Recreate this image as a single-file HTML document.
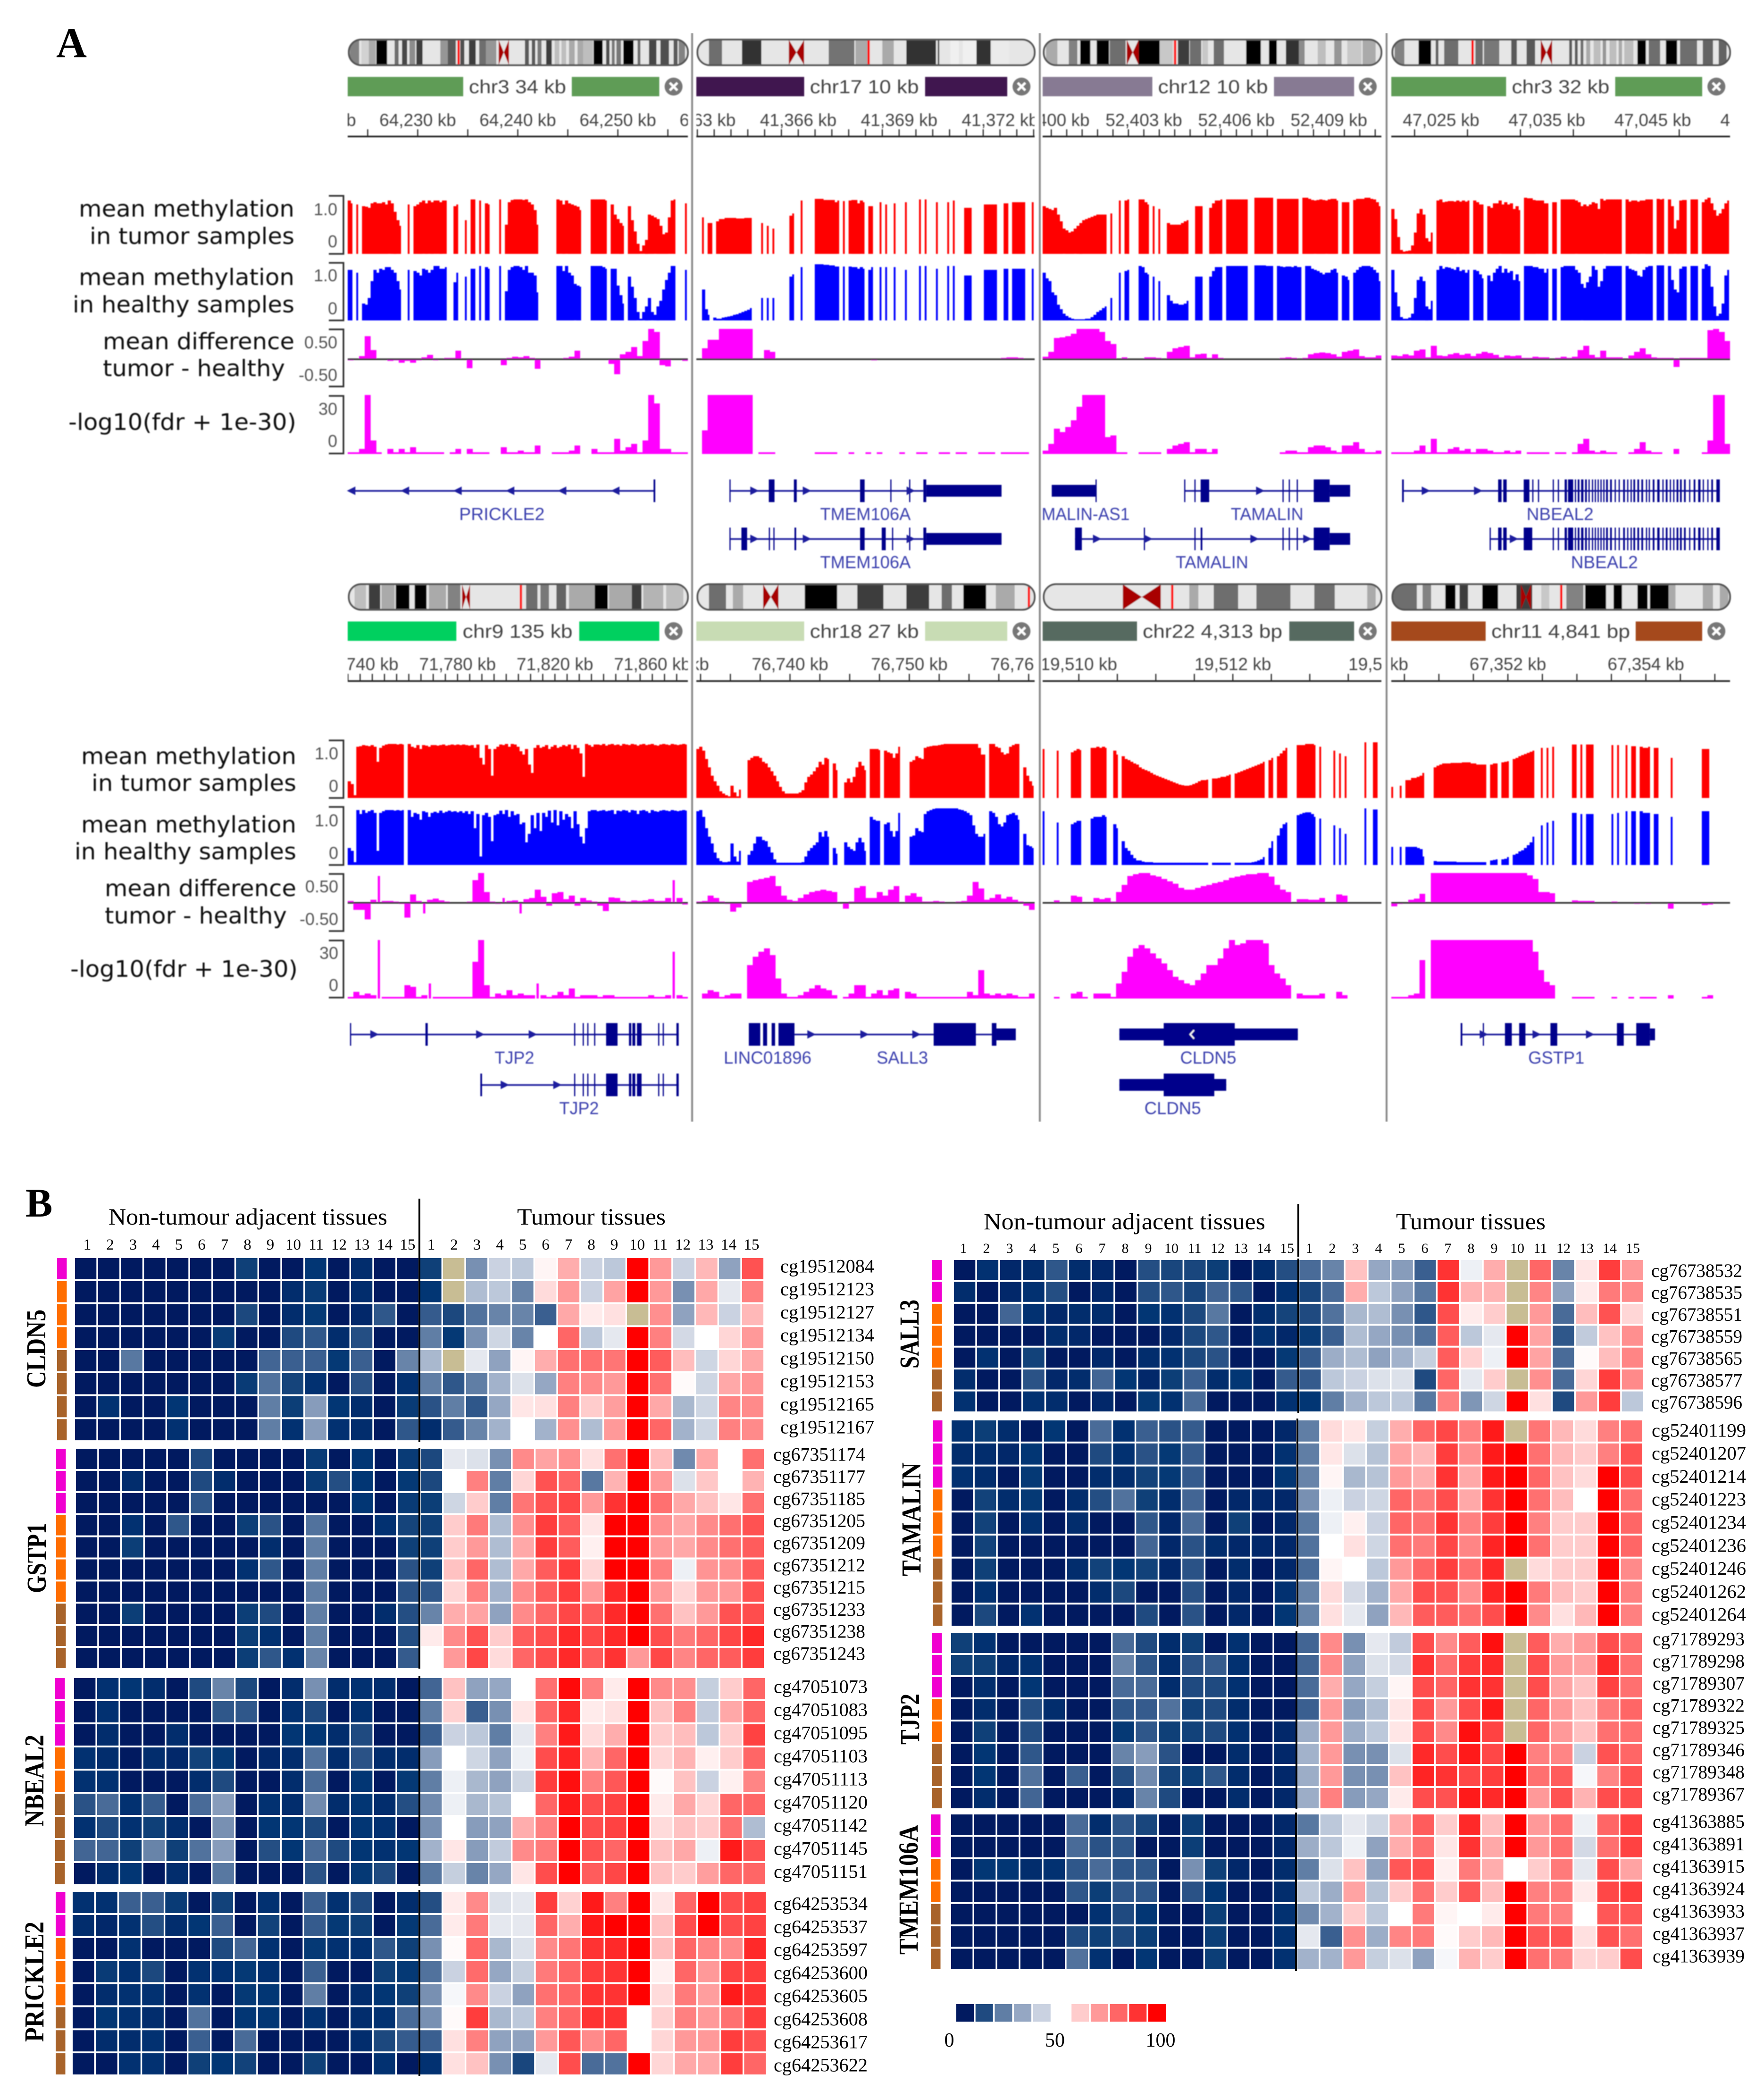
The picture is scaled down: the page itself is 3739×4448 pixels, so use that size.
<!DOCTYPE html>
<html lang="en">
<head>
<meta charset="utf-8">
<title>Methylation tracks and heatmaps</title>
<style>
html,body{margin:0;padding:0;background:#fff}
svg{display:block}
.serif{font-family:"Liberation Serif",serif}
.sans{font-family:"Liberation Sans",sans-serif}
.dj{font-family:"DejaVu Sans",sans-serif;font-size:48px;fill:#111}
</style>
</head>
<body>
<svg id="fig" width="3739" height="4448" viewBox="0 0 3739 4448">
<defs><filter id="soft" x="0" y="0" width="100%" height="100%"><feGaussianBlur stdDeviation="1.1"/></filter></defs>
<rect width="3739" height="4448" fill="#fff"/>
<g id="partA" filter="url(#soft)">
<text class="dj" x="167" y="459" textLength="457" lengthAdjust="spacingAndGlyphs">mean methylation</text>
<text class="dj" x="190" y="517" textLength="434" lengthAdjust="spacingAndGlyphs">in tumor samples</text>
<text class="dj" x="167" y="604" textLength="457" lengthAdjust="spacingAndGlyphs">mean methylation</text>
<text class="dj" x="154" y="662" textLength="470" lengthAdjust="spacingAndGlyphs">in healthy samples</text>
<text class="dj" x="218" y="740" textLength="406" lengthAdjust="spacingAndGlyphs">mean difference</text>
<text class="dj" x="218" y="797" textLength="386" lengthAdjust="spacingAndGlyphs">tumor - healthy</text>
<text class="dj" x="145" y="911" textLength="483" lengthAdjust="spacingAndGlyphs">-log10(fdr + 1e-30)</text>
<text class="dj" x="172" y="1619" textLength="456" lengthAdjust="spacingAndGlyphs">mean methylation</text>
<text class="dj" x="194" y="1676" textLength="434" lengthAdjust="spacingAndGlyphs">in tumor samples</text>
<text class="dj" x="172" y="1764" textLength="456" lengthAdjust="spacingAndGlyphs">mean methylation</text>
<text class="dj" x="158" y="1821" textLength="470" lengthAdjust="spacingAndGlyphs">in healthy samples</text>
<text class="dj" x="222" y="1899" textLength="406" lengthAdjust="spacingAndGlyphs">mean difference</text>
<text class="dj" x="222" y="1957" textLength="386" lengthAdjust="spacingAndGlyphs">tumor - healthy</text>
<text class="dj" x="149" y="2070" textLength="482" lengthAdjust="spacingAndGlyphs">-log10(fdr + 1e-30)</text>
</g>
<text class="serif" x="119" y="121" font-size="90" font-weight="bold">A</text>
<text class="serif" x="54" y="2578" font-size="86" font-weight="bold">B</text>
<text class="serif" x="230" y="2595" font-size="50" textLength="591" lengthAdjust="spacingAndGlyphs">Non-tumour adjacent tissues</text>
<text class="serif" x="1096" y="2595" font-size="50" textLength="315" lengthAdjust="spacingAndGlyphs">Tumour tissues</text>
<text class="serif" x="2085" y="2605" font-size="50" textLength="597" lengthAdjust="spacingAndGlyphs">Non-tumour adjacent tissues</text>
<text class="serif" x="2959" y="2605" font-size="50" textLength="317" lengthAdjust="spacingAndGlyphs">Tumour tissues</text>
<g id="partB"></g>
</svg>
<script>
// ---------- Track data: values per genomic bin (0 = no probe) ----------
const chr3aTumor=[95,90,0,88,0,85,84,82,90,92,90,90,92,88,95,90,75,60,50,0,0,88,0,85,88,92,95,90,95,92,95,95,92,95,95,0,0,85,88,0,0,60,0,97,97,0,95,0,90,88,0,0,0,97,0,52,92,96,97,97,97,96,97,92,88,78,52,0,0,0,0,0,0,97,95,88,95,90,88,86,84,78,0,0,0,97,97,97,97,97,95,0,88,70,62,55,50,0,85,60,40,18,5,15,25,70,68,65,62,50,35,38,65,95,97,0,0,0,90];
const chr3aHealthy=[90,90,0,85,0,30,28,40,70,90,85,92,90,95,95,90,85,70,55,0,0,90,0,88,85,80,92,90,85,90,97,97,92,92,95,0,0,68,85,0,0,78,0,92,92,0,97,0,95,92,0,0,0,97,0,52,90,95,97,97,95,90,97,85,85,80,50,0,0,0,0,0,0,97,97,88,97,85,80,65,62,60,0,0,0,97,97,97,97,95,92,0,92,92,62,45,30,0,78,60,40,15,3,15,25,40,15,10,25,35,55,72,85,97,97,0,0,0,90];
const chr3aDiff=[-2,-1,5,38,15,-1,-1,-3,-2,-6,-3,-6,-2,3,7,-2,0,2,2,14,0,-15,0,-1,0,0,0,-10,2,4,3,5,2,-16,0,0,0,0,2,4,14,0,0,-1,0,-1,-8,-25,8,12,20,5,30,50,45,-10,-12,0,-1,-3];
const chr3aFdr=[1,1,3,35,8,1,0,3,1,3,1,4,1,1,1,1,1,0,1,3,0,3,1,1,1,0,0,4,1,1,2,1,1,5,0,0,1,1,1,2,5,0,0,3,1,1,1,9,2,4,6,1,8,35,30,3,3,1,1,1];
const chr17Tumor=[0,0,65,0,55,55,0,58,62,62,64,64,64,64,63,63,63,64,64,64,0,0,0,55,0,50,0,45,0,0,0,0,0,68,72,0,0,95,0,0,0,0,98,98,98,96,96,96,96,92,95,0,94,0,95,96,96,90,95,92,0,85,85,0,0,92,0,88,0,0,90,0,0,0,92,0,0,0,0,97,0,97,0,0,0,92,0,0,0,92,0,95,0,0,0,82,82,82,0,0,0,0,88,88,88,88,88,0,0,90,90,0,92,92,92,92,92,0,0,92];
const chr17Healthy=[0,0,55,20,10,0,5,3,3,5,6,7,8,10,11,13,15,17,19,22,0,0,0,40,0,40,0,40,0,0,0,0,0,78,82,0,0,95,0,0,0,0,100,100,100,99,99,98,98,96,96,0,96,0,96,95,95,92,95,92,0,90,95,0,0,95,0,95,0,0,95,0,0,0,90,0,0,0,0,97,0,97,0,0,0,92,0,0,0,97,0,97,0,0,0,80,80,80,0,0,0,0,90,90,90,90,90,0,0,92,92,0,92,92,92,92,92,0,0,92];
const chr17Diff=[0,18,32,32,50,50,50,50,50,50,0,0,15,12,0,0,0,-1,0,0,0,1,1,1,1,1,1,0,1,1,1,-2,-1,0,0,0,1,0,1,0,0,0,0,1,0,1,1,1,0,0,1,1,1,1,2,3,3,2,1,1];
const chr17Fdr=[0,14,35,35,35,35,35,35,35,35,0,1,1,1,0,0,0,0,0,0,0,1,1,1,1,0,0,1,0,0,1,0,1,0,0,0,1,0,0,1,1,0,0,1,1,0,1,1,0,0,1,1,1,0,1,1,1,1,1,0];
const chr12Tumor=[85,82,80,78,82,70,58,45,42,38,40,45,50,55,60,62,64,66,68,70,70,70,70,0,72,0,0,95,0,95,97,0,0,0,97,97,92,88,0,85,0,80,0,0,55,52,52,52,52,55,58,60,0,0,85,85,85,0,0,82,90,95,95,97,0,97,97,97,97,97,97,97,97,0,0,100,100,100,100,100,100,100,0,98,98,98,98,98,98,98,98,0,100,100,98,96,95,96,97,96,95,97,98,98,95,0,92,92,92,0,96,98,98,98,100,100,98,97,92,85];
const chr12Healthy=[85,75,70,50,45,28,20,12,8,5,3,2,2,2,2,3,3,6,10,15,18,22,25,0,40,0,0,85,0,88,90,0,0,0,97,95,85,82,0,78,0,70,0,0,45,35,30,30,28,28,30,35,0,0,78,78,78,0,0,78,88,95,95,95,0,97,97,97,97,97,97,97,97,0,0,98,98,98,98,97,97,97,0,97,96,95,96,96,95,97,95,95,0,97,97,92,90,88,85,82,85,85,90,92,85,0,80,78,72,0,85,90,95,97,97,97,95,90,85,70];
const chr12Diff=[4,12,35,36,38,42,50,50,50,50,45,30,25,1,3,0,1,1,3,3,2,1,12,18,20,22,3,8,9,2,8,2,1,1,1,1,0,0,0,0,0,0,2,3,2,1,2,8,10,11,10,8,4,12,14,16,5,3,3,6];
const chr12Fdr=[2,6,15,13,16,20,28,35,35,35,35,10,11,1,1,0,0,1,1,1,1,0,3,5,6,7,1,3,3,1,3,0,0,0,0,0,0,0,0,0,0,0,1,2,2,1,1,4,5,5,4,2,1,5,5,7,3,1,1,2];
const chr3bTumor=[80,62,30,7,4,5,6,15,38,72,80,70,28,22,38,0,95,97,92,93,94,94,93,95,93,95,93,95,0,95,92,88,88,0,85,82,90,90,95,88,92,88,90,80,85,78,0,100,99,99,96,95,95,95,90,90,0,92,92,0,97,97,97,97,97,95,92,85,88,85,88,92,90,80,98,95,97,97,97,97,97,97,0,97,93,95,95,93,95,95,97,97,97,0,98,97,98,0,97,85,45,60,95,96,96,0,97,97,97,0,92,97,100,90,78,68,72,80,90,95];
const chr3bHealthy=[90,50,25,6,3,3,5,12,40,72,78,70,25,20,35,0,90,97,92,95,94,92,90,95,88,90,85,90,0,90,88,82,75,0,80,70,85,92,97,85,92,85,88,72,82,70,0,97,97,97,95,95,92,92,85,92,0,92,92,0,95,97,97,97,97,90,85,65,58,68,78,97,90,60,70,92,97,97,97,97,97,97,0,97,92,90,88,80,78,90,95,97,97,0,98,98,98,0,97,72,55,50,92,96,96,0,97,97,97,0,92,100,97,60,25,8,12,30,80,90];
const chr3bDiff=[6,5,8,6,14,16,3,22,6,5,8,10,7,9,5,9,12,10,7,3,6,5,6,2,2,4,3,3,0,2,4,2,4,15,22,7,3,14,3,3,3,0,6,12,18,8,3,2,2,2,-13,2,2,2,2,2,48,50,45,30];
const chr3bFdr=[1,1,1,1,2,5,1,9,1,1,3,4,2,3,1,3,3,2,1,1,2,1,2,0,1,1,1,1,0,1,1,0,1,6,9,2,1,2,1,1,0,0,1,3,7,2,1,1,0,0,3,0,0,0,0,1,8,35,35,6];
const chr9Tumor=[30,25,5,92,93,95,94,93,95,92,65,90,94,96,97,97,97,96,97,96,0,97,92,90,95,88,95,94,92,95,95,94,95,96,94,95,96,95,96,95,96,95,94,95,90,96,72,60,95,88,40,88,92,96,95,97,92,97,96,92,84,78,88,60,45,90,95,90,92,95,88,92,95,90,92,95,93,96,88,95,90,80,38,97,95,92,96,96,95,97,94,96,97,95,96,94,97,96,95,97,96,94,96,97,95,96,97,95,94,96,97,96,95,97,96,95,96,97,96];
const chr9Healthy=[30,25,5,97,90,97,92,95,97,92,25,92,95,97,97,97,96,97,96,97,0,97,85,92,90,80,95,93,85,92,94,92,96,92,94,96,94,95,93,95,92,95,90,95,65,90,15,88,92,85,42,88,90,96,90,97,85,95,88,90,72,75,40,55,88,65,92,60,92,85,96,75,97,70,95,80,90,85,65,95,72,50,38,65,95,97,97,95,96,97,95,96,97,90,96,95,97,96,93,97,96,90,96,97,95,92,97,95,94,96,97,96,95,97,96,95,96,97,96];
const chr9Diff=[3,-12,-12,-28,5,45,3,3,2,-2,-25,14,3,-18,5,7,4,2,0,-1,-1,2,38,50,18,2,-2,8,3,4,-18,6,8,22,10,-5,16,18,6,12,-5,8,4,2,-5,-14,9,8,3,2,4,3,4,6,3,3,8,38,8,-3];
const chr9Fdr=[1,4,2,3,2,35,1,1,1,1,8,7,1,2,9,1,1,1,1,1,1,1,22,35,8,1,3,2,5,2,3,2,2,9,2,1,2,4,2,6,1,2,2,2,1,2,2,1,1,1,1,1,1,2,1,1,2,28,2,1];
const chr18Tumor=[88,92,85,70,55,40,30,22,12,8,5,3,22,10,3,15,0,0,68,72,75,75,72,65,62,55,48,40,30,20,12,8,8,8,8,8,10,14,28,38,42,48,55,65,60,72,70,0,62,50,0,0,28,35,28,38,55,65,58,50,0,88,88,88,86,0,85,82,80,72,80,92,0,0,0,65,68,75,72,70,90,92,93,94,94,95,96,97,97,97,97,97,97,97,97,97,97,97,97,90,78,78,0,97,97,92,90,82,78,80,92,95,97,97,0,55,40,30,22];
const chr18Healthy=[95,97,85,65,50,38,22,12,7,5,5,6,38,15,6,25,0,0,18,25,38,50,50,44,42,32,22,10,4,4,4,4,4,4,4,4,4,5,15,25,30,35,40,58,50,60,50,0,30,20,0,0,40,32,28,25,40,48,40,25,0,85,80,78,78,0,72,75,60,50,60,92,0,0,0,50,52,65,60,58,90,95,97,99,100,100,100,100,100,100,100,100,98,97,95,92,88,70,55,50,50,55,0,95,92,85,72,68,75,88,90,92,88,80,0,55,35,33,30];
const chr18Diff=[2,3,12,8,2,-2,-15,-8,0,35,38,40,42,45,28,12,5,3,8,14,18,20,22,20,18,0,-10,2,25,28,8,8,18,12,22,28,0,12,16,10,2,2,3,2,1,1,2,3,12,35,24,5,8,14,7,10,5,2,-5,-12];
const chr18Fdr=[0,3,5,4,1,2,3,3,0,20,25,28,30,26,12,3,1,1,2,4,6,8,6,5,2,0,1,3,8,8,1,3,5,2,5,6,0,4,3,1,1,1,1,1,1,1,1,1,4,2,17,3,2,3,2,3,2,1,1,3];
const chr22Tumor=[88,0,0,0,0,85,0,0,0,0,82,85,88,86,0,0,0,90,90,92,90,92,90,0,0,85,78,0,75,70,68,65,62,60,55,52,50,48,45,42,40,38,36,34,32,30,28,26,24,23,22,22,23,25,27,30,32,32,33,0,35,35,36,38,38,40,42,0,44,46,48,50,52,54,56,58,60,62,65,0,68,72,0,75,80,85,90,0,0,0,95,95,95,97,97,97,95,0,92,0,0,0,0,85,0,80,0,75,0,0,0,0,0,0,100,0,0,100,100,0];
const chr22Healthy=[95,0,0,0,0,75,0,0,0,0,72,75,78,78,0,0,0,82,85,85,85,88,85,0,0,72,65,0,42,30,25,18,12,8,8,6,5,5,5,4,4,4,4,4,4,4,4,4,4,4,4,4,4,4,4,4,4,4,4,0,4,4,4,4,4,4,4,0,4,4,4,4,4,4,5,6,8,10,14,0,30,42,0,52,65,72,75,0,0,0,88,90,92,93,93,90,85,0,82,0,0,0,0,70,0,65,0,55,0,0,0,0,0,0,100,0,0,98,98,0];
const chr22Diff=[0,0,4,0,0,12,10,0,0,8,6,8,2,18,30,45,48,50,50,46,44,40,36,32,25,22,22,25,28,30,33,35,38,42,44,46,48,48,50,50,44,30,22,18,0,6,6,5,5,8,0,0,14,12,0,0,0,1,0,1];
const chr22Fdr=[0,0,1,0,0,3,4,1,0,3,3,3,1,9,16,25,30,32,30,27,24,21,17,13,11,9,8,11,15,20,20,24,30,35,32,33,35,35,35,33,20,15,12,8,0,3,2,2,2,3,0,0,4,2,0,0,0,0,0,0];
const chr11Tumor=[20,0,0,22,0,32,32,36,36,38,40,45,0,0,0,55,58,60,62,62,62,63,63,63,63,64,64,64,62,62,60,60,60,60,0,60,62,62,0,64,65,66,0,70,72,75,77,79,81,83,85,0,0,90,0,90,0,92,0,0,0,0,0,0,96,96,0,96,0,96,96,96,0,0,0,0,0,0,95,0,95,0,0,95,0,93,93,0,92,90,90,92,0,90,90,0,0,0,0,72,0,0,0,0,0,0,0,0,0,0,88,88,88,0,0,0,0,0,0,0];
const chr11Healthy=[32,0,0,32,0,32,32,32,32,30,28,15,0,0,0,7,6,6,6,6,6,6,6,5,5,5,5,5,5,5,5,5,5,5,0,8,9,10,0,10,11,14,0,18,20,24,26,30,35,40,50,0,0,70,0,75,0,78,0,0,0,0,0,0,92,92,0,90,0,90,90,90,0,0,0,0,0,0,90,0,92,0,0,95,0,95,95,0,95,92,92,92,0,90,90,0,0,0,0,85,0,0,0,0,0,0,0,0,0,0,95,95,95,0,0,0,0,0,0,0];
const chr11Diff=[-6,-2,-1,5,7,15,0,50,50,50,50,50,50,50,50,50,50,50,50,50,50,50,50,50,46,40,18,18,16,0,0,0,4,3,3,3,0,0,1,2,1,0,0,-2,-1,-2,0,0,0,-10,0,0,0,0,0,-4,-3,0,0,0];
const chr11Fdr=[1,1,1,2,3,23,0,35,35,35,35,35,35,35,35,35,35,35,35,35,35,35,35,35,35,28,17,10,8,0,0,0,1,1,1,1,0,0,0,1,0,0,1,0,1,1,1,0,0,2,0,0,0,0,0,1,2,0,0,0];

// ---------- Heatmap data: % methylation, NA = no data ----------
const NA=-1;
const columnLabels=[1,2,3,4,5,6,7,8,9,10,11,12,13,14,15];
const heatCLDN5=[
[2,2,2,2,2,2,2,12,2,2,8,2,6,2,2,12,NA,30,43,40,52,66,43,40,100,70,43,64,33,84],
[2,2,2,2,2,2,2,2,2,6,10,2,6,2,2,8,NA,38,40,28,57,70,43,68,100,70,30,67,47,75],
[2,2,2,2,2,2,2,16,2,6,9,2,5,20,2,21,16,25,28,28,22,67,54,56,NA,72,33,64,43,64],
[2,2,2,2,2,2,10,2,2,17,20,6,18,2,2,27,9,30,44,28,50,80,40,47,100,75,45,50,58,70],
[2,2,26,2,2,2,2,2,23,22,22,9,22,2,28,37,NA,47,33,52,66,78,78,77,100,82,63,44,58,67],
[2,2,2,2,2,2,2,10,25,14,7,2,19,2,7,27,20,27,36,46,34,75,73,70,100,78,51,44,67,71],
[2,7,2,2,8,2,2,2,27,11,32,8,6,2,10,19,27,20,34,55,56,75,60,69,100,67,37,44,74,73],
[2,2,2,2,7,2,2,2,27,7,32,7,6,2,20,6,21,28,36,50,36,72,38,70,100,80,36,44,75,73]];
const heatGSTP1=[
[2,2,2,2,2,17,2,2,2,2,10,2,8,2,10,16,47,46,30,73,68,72,56,78,100,63,29,67,50,78],
[2,2,6,2,2,17,6,2,2,2,10,18,8,2,9,16,50,75,27,58,84,80,26,65,100,70,46,61,50,65],
[2,2,2,2,2,20,2,2,2,2,2,2,8,2,10,11,44,60,27,77,84,86,70,90,100,78,67,62,55,78],
[2,2,7,2,20,2,2,11,19,2,25,2,2,7,14,12,60,76,38,72,88,82,55,100,100,72,67,73,78,84],
[2,2,11,2,2,2,2,2,6,2,27,2,2,2,12,12,60,70,38,67,88,82,53,100,100,70,67,73,78,82],
[2,2,2,2,2,2,2,7,20,2,27,2,2,2,19,12,62,80,38,67,82,88,58,100,100,75,48,71,72,82],
[2,2,2,2,2,2,2,2,2,2,27,2,2,2,19,20,58,75,36,73,82,88,70,92,100,70,58,70,70,84],
[2,2,11,2,2,2,2,11,17,2,27,2,2,6,18,28,66,68,33,73,80,86,82,92,100,78,62,70,84,85],
[2,2,2,2,2,2,2,11,7,2,27,2,2,2,18,54,73,84,60,82,85,92,86,92,100,85,76,80,86,92],
[2,2,2,2,2,2,2,11,20,7,28,2,2,2,21,50,70,86,57,80,85,92,82,90,70,86,74,80,82,88]];
const heatNBEAL2=[
[2,7,8,6,2,17,28,16,2,6,30,6,7,6,2,23,62,33,34,50,78,98,75,54,100,73,72,42,60,80],
[2,7,2,2,2,2,20,20,2,7,17,2,7,2,2,27,59,22,30,55,80,92,54,56,100,62,75,41,67,80],
[2,6,2,2,6,2,2,2,2,8,8,6,17,2,2,22,43,40,27,47,75,95,57,66,100,60,63,40,60,87],
[7,6,2,6,5,13,9,2,5,6,25,6,19,6,6,32,50,44,33,48,85,93,65,80,100,58,65,53,60,80],
[7,7,2,2,2,6,17,2,2,6,24,2,8,2,9,27,48,37,33,44,88,97,75,83,100,51,62,43,53,74],
[19,24,7,21,2,24,32,2,7,6,29,6,8,6,18,29,48,37,39,50,80,95,85,87,100,54,67,58,80,80],
[7,17,7,12,6,2,30,2,8,8,16,2,8,7,2,30,50,32,33,66,75,100,85,87,100,57,62,60,78,38],
[23,23,12,28,12,25,32,2,18,8,24,17,8,7,8,36,55,32,41,73,76,100,84,80,100,62,67,48,95,84],
[2,6,8,2,6,2,26,2,2,2,19,2,9,17,2,26,42,28,34,55,85,100,82,86,100,62,60,69,80,80]];
const heatPRICKLE2=[
[7,7,22,22,10,2,13,2,7,2,22,7,17,2,6,18,54,73,46,47,88,59,95,75,100,55,80,100,85,87],
[6,5,7,18,6,8,22,2,13,2,21,9,12,2,9,24,54,76,47,47,80,66,95,100,100,62,85,100,85,87],
[2,2,7,2,2,2,17,23,7,2,9,7,7,20,12,30,51,80,37,46,73,77,90,92,100,63,80,74,73,92],
[2,10,7,16,2,7,7,9,7,2,22,2,2,12,9,25,43,79,34,42,76,80,88,90,100,53,80,70,87,88],
[2,6,7,7,2,7,2,9,8,2,27,2,6,8,12,30,49,73,43,33,78,80,90,90,100,57,76,69,95,90],
[2,8,7,6,2,25,2,8,8,2,7,2,6,7,24,30,51,88,37,40,75,80,90,90,50,59,75,70,78,88],
[2,6,6,7,2,22,2,24,2,2,2,2,6,16,21,22,56,75,33,33,70,83,73,80,50,58,70,70,88,84],
[2,2,7,7,2,12,8,13,2,2,12,2,2,7,2,7,56,62,30,15,47,85,24,25,100,58,67,67,88,80]];
const heatSALL3=[
[2,7,5,6,20,6,5,2,18,15,15,11,2,6,18,24,28,62,34,32,22,90,48,66,NA,80,28,55,88,70],
[6,2,5,7,18,2,5,2,18,20,15,23,20,2,7,15,24,66,40,33,26,90,65,65,NA,74,33,54,76,73],
[2,2,23,7,5,6,6,2,8,7,16,26,2,6,14,17,25,37,38,30,20,85,54,60,NA,70,24,63,84,58],
[2,2,2,2,6,5,2,2,2,5,16,20,2,7,5,10,22,38,34,30,25,82,40,47,100,68,20,41,62,72],
[2,7,2,13,2,2,5,2,6,7,16,19,2,2,9,21,35,38,33,36,42,82,59,48,100,68,24,51,63,74],
[6,2,2,19,5,6,23,8,5,11,22,6,8,2,21,21,40,43,46,46,17,80,47,60,NA,72,24,58,88,73],
[7,2,2,7,6,2,5,2,9,7,24,2,2,2,7,8,27,36,40,40,26,75,31,44,100,56,17,70,88,40]];
const heatTAMALIN=[
[7,11,6,2,8,2,24,7,22,19,21,2,2,2,5,27,57,55,42,66,80,86,75,95,NA,77,64,57,75,78],
[6,6,5,8,2,2,17,7,19,9,21,2,2,2,7,27,55,46,39,68,64,88,72,95,100,78,64,60,75,84],
[7,6,2,9,2,2,6,6,13,9,21,2,2,2,8,28,52,37,39,70,66,90,67,95,100,80,62,57,100,85],
[2,13,6,9,2,6,18,25,12,6,23,2,5,5,5,30,48,43,44,80,76,85,67,90,100,78,63,50,100,78],
[2,13,2,7,2,6,2,2,20,5,24,2,12,2,5,26,48,53,43,80,78,90,75,88,100,75,60,60,100,80],
[2,13,2,2,2,2,2,2,23,5,19,6,5,5,5,25,50,56,44,78,76,86,74,93,100,78,60,60,100,80],
[2,12,2,2,2,6,13,8,13,5,19,2,6,2,5,24,52,50,40,70,80,88,78,92,NA,57,60,60,100,73],
[2,7,2,2,2,2,6,16,2,2,19,2,5,2,7,28,57,45,36,67,85,84,72,93,100,76,63,60,100,75],
[2,16,2,7,2,2,2,2,17,2,19,2,5,2,8,28,56,47,33,64,82,82,78,85,100,73,56,64,100,75]];
const heatTJP2=[
[12,7,2,2,2,2,2,24,17,6,12,2,7,2,2,23,73,30,47,41,85,73,82,97,NA,82,66,70,85,78],
[12,12,5,7,2,2,2,28,20,6,19,21,7,2,2,23,73,33,46,45,90,78,88,92,NA,85,70,68,92,78],
[2,6,2,8,2,2,2,24,24,6,17,17,7,2,2,24,66,34,42,52,85,80,90,90,NA,85,68,62,87,78],
[2,6,2,18,6,2,2,20,21,25,13,17,6,2,2,22,70,32,38,55,85,70,85,95,NA,80,70,62,76,80],
[2,12,2,18,2,2,2,9,20,12,13,17,7,2,5,35,70,35,40,55,85,73,97,87,NA,80,70,62,78,78],
[2,8,2,20,2,2,2,28,32,19,2,2,6,2,5,36,70,30,30,46,92,85,95,86,100,75,74,43,84,80],
[2,8,2,25,2,22,2,18,29,14,11,20,6,2,5,35,70,30,30,62,93,90,86,88,100,78,82,49,74,84],
[2,6,2,23,2,2,2,5,28,17,2,2,6,2,5,35,75,32,34,54,85,84,95,92,100,70,84,65,85,85]];
const heatTMEM106A=[
[2,2,2,2,2,24,6,20,15,2,11,2,2,2,5,26,40,47,44,66,82,60,92,63,100,70,78,48,80,87],
[2,2,2,2,2,24,19,20,2,2,11,2,2,2,5,35,40,48,33,66,78,55,90,67,100,70,78,45,78,87],
[2,8,8,6,7,20,24,20,20,2,30,12,5,2,6,27,46,62,33,83,85,53,76,66,50,60,76,47,85,68],
[2,2,2,2,2,20,11,20,20,2,19,8,2,2,6,40,35,68,39,60,78,60,83,63,100,75,76,54,86,88],
[2,2,2,2,2,2,7,17,8,2,2,11,2,2,7,29,36,60,40,50,76,52,50,54,100,76,75,50,83,83],
[2,2,2,2,2,17,12,16,11,2,2,11,2,2,7,47,22,72,35,74,76,51,60,64,100,83,84,56,84,78],
[2,2,2,2,2,25,7,2,8,2,2,11,2,2,7,36,36,70,42,46,33,49,65,60,100,78,76,58,60,85]];
const probesCLDN5=['cg19512084','cg19512123','cg19512127','cg19512134','cg19512150','cg19512153','cg19512165','cg19512167'];
const probesGSTP1=['cg67351174','cg67351177','cg67351185','cg67351205','cg67351209','cg67351212','cg67351215','cg67351233','cg67351238','cg67351243'];
const probesNBEAL2=['cg47051073','cg47051083','cg47051095','cg47051103','cg47051113','cg47051120','cg47051142','cg47051145','cg47051151'];
const probesPRICKLE2=['cg64253534','cg64253537','cg64253597','cg64253600','cg64253605','cg64253608','cg64253617','cg64253622'];
const probesSALL3=['cg76738532','cg76738535','cg76738551','cg76738559','cg76738565','cg76738577','cg76738596'];
const probesTAMALIN=['cg52401199','cg52401207','cg52401214','cg52401223','cg52401234','cg52401236','cg52401246','cg52401262','cg52401264'];
const probesTJP2=['cg71789293','cg71789298','cg71789307','cg71789322','cg71789325','cg71789346','cg71789348','cg71789367'];
const probesTMEM106A=['cg41363885','cg41363891','cg41363915','cg41363924','cg41363933','cg41363937','cg41363939'];
const legendLevels=[2,17,27,34,43,50,60,70,80,90,100];
const legendTicks=[0,50,100];

// ---------- Gene models, in track units ----------
const nbealTail=[[1196,1198],[1205,1207],[1217,1221],[1223,1232],[1235,1237],[1240,1243],[1246,1250],[1253,1256],[1259,1261],[1265,1267],[1270,1272],[1275,1277],[1280,1282],[1285,1287],[1290,1293],[1297,1300],[1305,1307],[1312,1314],[1320,1323],[1327,1329],[1333,1335],[1338,1341],[1345,1348],[1352,1355],[1360,1362],[1365,1367],[1372,1375],[1380,1384],[1389,1391],[1395,1398],[1402,1404],[1408,1410],[1414,1417],[1420,1423],[1427,1430],[1436,1438],[1444,1447],[1452,1456],[1460,1462],[1468,1470],[1475,1478],[1484,1490]];
const tjpTail=[[1004,1006],[1019,1021],[1027,1029],[1039,1041],[1060,1080],[1100,1104],[1106,1111],[1114,1122],[1151,1153],[1159,1161],[1183,1187]];
const genes=[
 {p:0,row:0,level:0,s:610,e:1145,ex:[[1143,1146]],ar:[614,708,800,892,983,1076],dir:-1},
 {p:1,row:0,level:0,s:1277,e:1616,ex:[[1276,1278],[1345,1355],[1389,1394],[1505,1513],[1558,1560],[1591,1593],[1616,1621]],wide:[[1621,1753]],ar:[1320,1412,1594],dir:1},
 {p:1,row:0,level:1,s:1277,e:1616,ex:[[1276,1278],[1297,1307],[1345,1347],[1353,1355],[1390,1393],[1505,1513],[1543,1550],[1561,1563],[1591,1593],[1616,1621]],wide:[[1621,1753]],ar:[1320,1412,1594],dir:1},
 {p:2,row:0,level:0,s:392,e:392,ex:[[392,394]],wide:[[315,392]],ar:[],dir:1},
 {p:2,row:0,level:0,s:549,e:840,ex:[[548,550],[566,568],[577,592],[721,723],[732,734],[746,748],[776,804]],wide:[[804,840]],ar:[682],dir:1},
 {p:2,row:0,level:1,s:356,e:840,ex:[[356,368],[477,479],[566,568],[577,580],[721,723],[732,734],[746,748],[776,804]],wide:[[804,840]],ar:[395,485,672,765],dir:1},
 {p:3,row:0,level:0,s:932,e:1490,ex:[[931,934],[1100,1106],[1109,1115],[1145,1155],[1160,1162],[1170,1172]].concat(nbealTail),ar:[973,1065],dir:1},
 {p:3,row:0,level:1,s:1085,e:1490,ex:[[1085,1087],[1100,1106],[1109,1115],[1145,1160]].concat(nbealTail),ar:[1128],dir:1},
 {p:0,row:1,level:0,s:613,e:1187,ex:[[612,614],[744,748]].concat(tjpTail),ar:[655,840,932],dir:1},
 {p:0,row:1,level:1,s:840,e:1187,ex:[[840,843]].concat(tjpTail),ar:[883,975],dir:1},
 {p:1,row:1,level:0,s:1390,e:1736,ex:[[1310,1330],[1335,1342],[1350,1356],[1362,1390],[1634,1708],[1736,1744]],wide:[[1744,1778]],ar:[1420,1513,1604],dir:1},
 {p:2,row:1,level:0,s:434,e:748,ex:[[512,637]],wide:[[434,748]],ar:[],dir:1},
 {p:2,row:1,level:1,s:434,e:622,ex:[[512,601]],wide:[[434,622]],ar:[],dir:1},
 {p:3,row:1,level:0,s:1035,e:1375,ex:[[1034,1037],[1073,1075],[1112,1124],[1137,1148],[1192,1204],[1309,1321],[1343,1367]],wide:[[1367,1376]],ar:[1075,1168,1262],dir:1}
];
const geneNames=[
 {p:0,row:0,level:0,t:'PRICKLE2',a:803,b:952},
 {p:1,row:0,level:0,t:'TMEM106A',a:1435,b:1594},
 {p:1,row:0,level:1,t:'TMEM106A',a:1435,b:1594},
 {p:2,row:0,level:0,t:'TAMALIN-AS1',a:262,b:452},
 {p:2,row:0,level:0,t:'TAMALIN',a:630,b:758},
 {p:2,row:0,level:1,t:'TAMALIN',a:533,b:661},
 {p:3,row:0,level:0,t:'NBEAL2',a:1150,b:1268},
 {p:3,row:0,level:1,t:'NBEAL2',a:1228,b:1346},
 {p:0,row:1,level:0,t:'TJP2',a:865,b:934},
 {p:0,row:1,level:1,t:'TJP2',a:978,b:1047},
 {p:1,row:1,level:0,t:'LINC01896',a:1266,b:1420},
 {p:1,row:1,level:0,t:'SALL3',a:1534,b:1624},
 {p:2,row:1,level:0,t:'CLDN5',a:541,b:640},
 {p:2,row:1,level:1,t:'CLDN5',a:478,b:578},
 {p:3,row:1,level:0,t:'GSTP1',a:1153,b:1252}
];

// ---------- Ideogram bands [start,end,gray] ----------
const bandsChr3a=[[612,628,130],[632,645,210],[645,657,170],[658,677,0],[690,697,110],[703,712,70],[716,726,140],[728,739,60],[770,783,150],[783,797,90],[805,812,80],[820,832,60],[838,850,110],[850,868,150],[918,925,90],[930,936,90],[940,947,120],[955,965,60],[970,978,190],[982,990,190],[995,1005,170],[1010,1020,170],[1020,1037,190],[1038,1054,0],[1060,1066,80],[1070,1075,120],[1078,1086,120],[1090,1108,0],[1115,1120,110],[1135,1148,70],[1155,1170,80],[1178,1185,90],[1187,1198,130]];
const bandsChr17=[[1240,1263,110],[1298,1332,50],[1450,1495,115],[1497,1518,170],[1544,1564,170],[1586,1638,50],[1641,1644,90],[1663,1678,240],[1685,1709,240],[1709,1734,50],[1736,1766,235]];
const bandsChr12=[[305,325,170],[345,360,130],[365,383,0],[394,416,0],[417,445,110],[468,505,0],[505,528,200],[537,557,60],[558,578,110],[580,590,200],[600,618,110],[657,683,0],[697,711,0],[727,750,50],[750,760,140],[783,797,190],[812,825,150],[835,860,200],[862,885,170]];
const bandsChr3b=[[918,935,130],[960,982,0],[990,995,100],[1005,1030,110],[1060,1073,110],[1075,1102,120],[1123,1133,90],[1150,1165,90],[1225,1230,90],[1235,1240,90],[1245,1250,110],[1255,1262,170],[1268,1280,190],[1284,1290,150],[1296,1308,190],[1312,1318,170],[1322,1338,190],[1345,1360,0],[1365,1385,110],[1395,1415,0],[1420,1450,110],[1460,1478,100],[1488,1502,100]];
const bandsChr9=[[620,640,190],[645,665,60],[667,690,170],[692,716,0],[725,746,0],[750,780,170],[783,805,130],[920,940,110],[945,960,120],[973,990,100],[995,1040,170],[1040,1063,0],[1065,1105,170],[1105,1122,60],[1125,1160,180],[1165,1195,190]];
const bandsChr18=[[1240,1270,110],[1282,1300,170],[1408,1465,0],[1500,1546,60],[1586,1626,60],[1648,1666,110],[1686,1726,0],[1743,1776,170]];
const bandsChr22=[[557,573,170],[600,643,110],[675,735,110],[777,813,110],[870,885,170]];
const bandsChr11=[[915,957,110],[967,982,130],[1007,1025,0],[1032,1047,60],[1072,1100,0],[1132,1160,60],[1176,1190,200],[1220,1250,130],[1253,1290,0],[1303,1318,0],[1345,1363,0],[1367,1400,0],[1400,1412,170],[1460,1478,170],[1490,1505,170]];

// ---------- Panels ----------
const panels=[{tu0:608,tu1:1203,px0:737,px1:1458},{tu0:1218,tu1:1811,px0:1476,px1:2193},{tu0:299,tu1:895,px0:2210,px1:2928},{tu0:912,tu1:1508,px0:2949,px1:3667}];
const rowGeom=[
 {ideoTop:84,ideoBot:138,barTop:163,barBot:204,rulerText:267,rulerY:289,tumor:[538,419],healthy:[679,560],diff:[761,697],fdr:[962,837],geneY:[1040,1142],nameY:[1102,1204]},
 {ideoTop:1238,ideoBot:1292,barTop:1317,barBot:1358,rulerText:1420,rulerY:1443,tumor:[1691,1573],healthy:[1833,1713],diff:[1913,1850],fdr:[2116,1992],geneY:[2192,2299],nameY:[2254,2361]}
];
const loci=[
 {p:0,row:0,chr:'chr3 34 kb',color:'#5e9c56',bar1:[608,810],txt:[820,990],bar2:[1000,1153],close:1178,bands:bandsChr3a,cen:[872,890],mark:802,kb:[64223,64257],tick:[64225,5],labels:[64220,64230,64240,64250,64260],T:chr3aTumor,H:chr3aHealthy,D:chr3aDiff,F:chr3aFdr},
 {p:1,row:0,chr:'chr17 10 kb',color:'#3f1650',bar1:[1218,1407],txt:[1417,1608],bar2:[1619,1763],close:1788,bands:bandsChr17,cen:[1380,1407],mark:1520,kb:[41362.97,41373.03],tick:[41363,0.5],labels:[41363,41366,41369,41372],T:chr17Tumor,H:chr17Healthy,D:chr17Diff,F:chr17Fdr},
 {p:2,row:0,chr:'chr12 10 kb',color:'#877a93',bar1:[299,492],txt:[502,695],bar2:[706,847],close:871,bands:bandsChr12,cen:[447,468],mark:532,kb:[52399.72,52410.7],tick:[52400,0.5],labels:[52400,52403,52406,52409],T:chr12Tumor,H:chr12Healthy,D:chr12Diff,F:chr12Fdr},
 {p:3,row:0,chr:'chr3 32 kb',color:'#5e9c56',bar1:[912,1114],txt:[1124,1296],bar2:[1306,1459],close:1484,bands:bandsChr3b,cen:[1175,1195],mark:1055,kb:[47020.3,47052.3],tick:[47022.5,5],labels:[47025,47035,47045,47055],T:chr3bTumor,H:chr3bHealthy,D:chr3bDiff,F:chr3bFdr},
 {p:0,row:1,spikes:true,chr:'chr9 135 kb',color:'#00d05f',bar1:[608,798],txt:[809,1001],bar2:[1013,1153],close:1178,bands:bandsChr9,cen:[808,822],mark:911,kb:[71734.9,71874.6],tick:[71735,5],labels:[71740,71780,71820,71860],T:chr9Tumor,H:chr9Healthy,D:chr9Diff,F:chr9Fdr},
 {p:1,row:1,chr:'chr18 27 kb',color:'#c8dcb4',bar1:[1218,1407],txt:[1417,1608],bar2:[1619,1763],close:1788,bands:bandsChr18,cen:[1335,1362],mark:1801,kb:[76732.15,76760.5],tick:[76732.5,2.5],labels:[76730,76740,76750,76760],T:chr18Tumor,H:chr18Healthy,D:chr18Diff,F:chr18Fdr},
 {p:2,row:1,chr:'chr22 4,313 bp',color:'#566b60',bar1:[299,465],txt:[475,721],bar2:[733,847],close:871,bands:bandsChr22,cen:[440,507],mark:527,kb:[19509.53,19513.93],tick:[19510,0.5],labels:[19510,19512,19514],T:chr22Tumor,H:chr22Healthy,D:chr22Diff,F:chr22Fdr},
 {p:3,row:1,chr:'chr11 4,841 bp',color:'#a5481c',bar1:[912,1078],txt:[1088,1332],bar2:[1342,1459],close:1484,bands:bandsChr11,cen:[1140,1158],mark:1211,kb:[67350.31,67355.22],tick:[67350.5,0.5],labels:[67350,67352,67354],T:chr11Tumor,H:chr11Healthy,D:chr11Diff,F:chr11Fdr}
];
const axisNotes=[
 ['1.0',456,0],['0',524,0],['1.0',596,0],['0',666,0],['0.50',738,0],['-0.50',807,0],['30',879,0],['0',947,0],
 ['1.0',1609,1],['0',1678,1],['1.0',1751,1],['0',1820,1],['0.50',1891,1],['-0.50',1960,1],['30',2032,1],['0',2100,1]
];
const brackets=[[415,538],[557,679],[698,819],[839,961],[1569,1691],[1710,1833],[1852,1973],[1993,2114]];
const separators=[1467,2204,2939];

// ---------- Helpers ----------
const svg=document.getElementById('fig');
const NS=svg.namespaceURI;
const A=document.getElementById('partA');
const B=document.getElementById('partB');
function mk(parent,tag,attrs,text){
  const e=document.createElementNS(NS,tag);
  for(const k in attrs)e.setAttribute(k,attrs[k]);
  if(text!==undefined)e.textContent=text;
  parent.appendChild(e);
  return e;
}
function xTu(P,tu){return P.px0+(tu-P.tu0)*(P.px1-P.px0)/(P.tu1-P.tu0);}
function xKb(P,L,kb){return P.px0+(kb-L.kb[0])*(P.px1-P.px0)/(L.kb[1]-L.kb[0]);}
const stops=[[0,[0,24,94]],[2,[1,26,96]],[8,[2,54,116]],[12,[15,64,120]],[17,[31,74,128]],[22,[58,95,144]],[27,[96,126,165]],[33,[143,162,191]],[40,[188,200,218]],[45,[211,217,229]],[50,[255,255,255]],[100,[255,0,0]]];
function heatColor(v){
  if(v<0)return '#c8bd94';
  for(let i=1;i<stops.length;i++){
    if(v<=stops[i][0]){
      const a=stops[i-1],b=stops[i],t=(v-a[0])/(b[0]-a[0]);
      return 'rgb('+a[1].map((c,j)=>Math.round(c+(b[1][j]-c)*t)).join(',')+')';
    }
  }
  return '#f00';
}
function drawTrack(P,values,base,perUnit,color,thinIsolated,lo,hi,name,spikes){
  const n=values.length,w=(P.px1-P.px0)/n;
  const g=mk(A,'g',{fill:color});
  
  
  values.forEach((raw,i)=>{
    if(!raw)return;
    const v=Math.max(lo,Math.min(hi,raw));
    const h=Math.abs(v)*perUnit;
    const x=P.px0+i*w;
    const next=values[i+1];
    const around=Math.max(Math.abs(values[i-1]||0),Math.abs(next||0));
    const isSpike=spikes&&Math.abs(raw)>=8&&Math.abs(raw)>2.5*around;
    const width=isSpike?w*0.4:(next?w+0.7:(thinIsolated?w*0.65:w));
    const r=mk(g,'rect',{x:(isSpike?x+w*0.3:x).toFixed(1),y:(v>0?base-h:base).toFixed(1),width:width.toFixed(1),height:h.toFixed(1)});
    
    
  });
}

// ---------- Clip paths ----------
const defs=svg.querySelector('defs');
panels.forEach((P,i)=>{
  const c=mk(defs,'clipPath',{id:'col'+i});
  mk(c,'rect',{x:P.px0,y:0,width:P.px1-P.px0,height:4448});
});

// ---------- Separators & brackets ----------
separators.forEach(x=>{
  const l=mk(A,'rect',{x:x-2,y:70,width:4,height:2307,fill:'#888'});
  
  
});
brackets.forEach(b=>{
  const p=mk(A,'path',{d:'M697 '+b[0]+'H728V'+b[1]+'H697',fill:'none',stroke:'#333','stroke-width':3.5});
  
  
});
axisNotes.forEach(a=>{
  const t=mk(A,'text',{x:a[2]?717:715,y:a[1],'text-anchor':'end','font-size':36,fill:'#555',class:'sans'},a[0]);
  
  
});

// ---------- Loci ----------
loci.forEach((L,li)=>{
  const P=panels[L.p],R=rowGeom[L.row];
  // ideogram
  const x0=xTu(P,Math.max(P.tu0+2,P.tu0)),x1=xTu(P,P.tu1);
  const cid='ideo'+li;
  const cp=mk(defs,'clipPath',{id:cid});
  mk(cp,'rect',{x:x0,y:R.ideoTop,width:x1-x0,height:R.ideoBot-R.ideoTop,rx:26,ry:26});
  const ideo=mk(A,'g',{'clip-path':'url(#'+cid+')'});
  
  
  mk(ideo,'rect',{x:x0,y:R.ideoTop,width:x1-x0,height:R.ideoBot-R.ideoTop,fill:'#e6e6e6'});
  L.bands.forEach(b=>{
    const r=mk(ideo,'rect',{x:xTu(P,b[0]).toFixed(1),y:R.ideoTop,width:((b[1]-b[0])*(P.px1-P.px0)/(P.tu1-P.tu0)).toFixed(1),height:R.ideoBot-R.ideoTop,fill:'rgb('+b[2]+','+b[2]+','+b[2]+')'});
    
    
  });
  const c0=xTu(P,L.cen[0]),c1=xTu(P,L.cen[1]),cm=(c0+c1)/2,cy=(R.ideoTop+R.ideoBot)/2;
  const cen=mk(ideo,'path',{d:'M'+c0+' '+R.ideoTop+'L'+cm+' '+cy+'L'+c0+' '+R.ideoBot+'ZM'+c1+' '+R.ideoTop+'L'+cm+' '+cy+'L'+c1+' '+R.ideoBot+'Z',fill:'#a80000'});
  
  
  const mark=mk(ideo,'rect',{x:xTu(P,L.mark)-2.5,y:R.ideoTop,width:5,height:R.ideoBot-R.ideoTop,fill:'#f00'});
  
  
  const out=mk(A,'rect',{x:x0,y:R.ideoTop,width:x1-x0,height:R.ideoBot-R.ideoTop,rx:26,ry:26,fill:'none',stroke:'#555','stroke-width':4});
  
  
  // name bar
  [L.bar1,L.bar2].forEach(b=>{
    const r=mk(A,'rect',{x:xTu(P,b[0]),y:R.barTop,width:xTu(P,b[1])-xTu(P,b[0]),height:R.barBot-R.barTop,fill:L.color});
    
    
  });
  const tx=mk(A,'text',{x:xTu(P,L.txt[0]),y:(R.barTop+R.barBot)/2+14,'font-size':40,fill:'#444',class:'sans',textLength:(xTu(P,L.txt[1])-xTu(P,L.txt[0])).toFixed(0),lengthAdjust:'spacingAndGlyphs'},L.chr);
  
  
  const cx=xTu(P,L.close),ccy=(R.barTop+R.barBot)/2;
  const cl=mk(A,'g',{});
  
  
  mk(cl,'circle',{cx:cx,cy:ccy,r:19,fill:'#777'});
  mk(cl,'path',{d:'M'+(cx-8)+' '+(ccy-8)+'L'+(cx+8)+' '+(ccy+8)+'M'+(cx+8)+' '+(ccy-8)+'L'+(cx-8)+' '+(ccy+8),stroke:'#fff','stroke-width':5});
  // ruler
  const ruler=mk(A,'g',{'clip-path':'url(#col'+L.p+')'});
  
  
  mk(ruler,'rect',{x:P.px0,y:R.rulerY-1.5,width:P.px1-P.px0,height:3.5,fill:'#222'});
  for(let kb=L.tick[0];kb<=L.kb[1];kb+=L.tick[1]){
    const x=xKb(P,L,kb);
    const t=mk(ruler,'rect',{x:(x-1.2).toFixed(1),y:R.rulerY-15,width:2.4,height:15,fill:'#222'});
    
    
  }
  L.labels.forEach(kb=>{
    const t=mk(ruler,'text',{x:xKb(P,L,kb).toFixed(1),y:R.rulerText,'text-anchor':'middle','font-size':37,fill:'#444',class:'sans'},kb.toLocaleString('en-US')+' kb');
    
    
  });
  // tracks
  drawTrack(P,L.T,R.tumor[0],(R.tumor[0]-R.tumor[1])/100,'#f00',true,0,100,'tumor-methylation-track',false);
  drawTrack(P,L.H,R.healthy[0],(R.healthy[0]-R.healthy[1])/100,'#00f',true,0,100,'healthy-methylation-track',false);
  drawTrack(P,L.D,R.diff[0],(R.diff[0]-R.diff[1])/50,'#f0f',false,-50,50,'mean-difference-track',!!L.spikes);
  const zero=mk(A,'rect',{x:P.px0,y:R.diff[0]-1.5,width:P.px1-P.px0,height:3.5,fill:'#333'});
  
  
  drawTrack(P,L.F,R.fdr[0],(R.fdr[0]-R.fdr[1])/35,'#f0f',false,0,35,'fdr-track',!!L.spikes);
});

// ---------- Genes ----------
genes.forEach(G=>{
  const P=panels[G.p],R=rowGeom[G.row],y=R.geneY[G.level];
  const g=mk(A,'g',{});
  
  
  if(G.e>G.s)mk(g,'rect',{x:xTu(P,G.s),y:y-1.5,width:xTu(P,G.e)-xTu(P,G.s),height:3.5,fill:'#1b1f9e'});
  (G.wide||[]).forEach(w=>{
    const r=mk(g,'rect',{x:xTu(P,w[0]),y:y-12.5,width:xTu(P,w[1])-xTu(P,w[0]),height:25,fill:'#00008b'});
    
    
  });
  G.ex.forEach(w=>{
    const r=mk(g,'rect',{x:xTu(P,w[0]),y:y-24,width:Math.max(2.5,xTu(P,w[1])-xTu(P,w[0])),height:48,fill:'#00008b'});
    
    
  });
  G.ar.forEach(a=>{
    const x=xTu(P,a),d=G.dir*9;
    const r=mk(g,'path',{d:'M'+(x-d)+' '+(y-9)+'L'+(x+d)+' '+y+'L'+(x-d)+' '+(y+9)+'Z',fill:'#1b1f9e'});
    
    
  });
});
genes.filter(G=>G.p===2&&G.row===1).forEach(G=>{
  if(G.level===0){
    const P=panels[2],R=rowGeom[1],x=xTu(P,562),y=R.geneY[0];
    const c=mk(A,'path',{d:'M'+(x+4)+' '+(y-9)+'L'+(x-4)+' '+y+'L'+(x+4)+' '+(y+9),fill:'none',stroke:'#fff','stroke-width':3});
    
    
  }
});
geneNames.forEach(N=>{
  const P=panels[N.p],R=rowGeom[N.row];
  const x=xTu(P,N.a),w=xTu(P,N.b)-x;
  const wrap=mk(A,'g',{'clip-path':'url(#col'+N.p+')'});
  const t=mk(wrap,'text',{x:x.toFixed(1),y:R.nameY[N.level],'font-size':37,fill:'#3b3fae',class:'sans',textLength:w.toFixed(0),lengthAdjust:'spacingAndGlyphs'},N.t);
  
  
});

// ---------- Heatmaps ----------
const annotationColors=['#f000d0','#ff6e00','#a8632a'];
const blocks=[
 {gene:'CLDN5',rows:heatCLDN5,probes:probesCLDN5,x0:159,x1:1618,y0:2666,y1:3052,bar:121,groups:[1,3,4],lab:1654,labEnd:1853,dy:8,line:889,lt:2540,lb:3056,gx:96,gTop:2775,gBot:2941},
 {gene:'GSTP1',rows:heatGSTP1,probes:probesGSTP1,x0:161,x1:1619,y0:3070,y1:3535,bar:119,groups:[3,4,3],lab:1639,labEnd:1834,dy:4,line:889,lt:3068,lb:3536,gx:97,gTop:3227,gBot:3376},
 {gene:'NBEAL2',rows:heatNBEAL2,probes:probesNBEAL2,x0:157,x1:1621,y0:3556,y1:3993,bar:117,groups:[3,2,4],lab:1640,labEnd:1839,dy:9,line:889,lt:3552,lb:3996,gx:92,gTop:3676,gBot:3871},
 {gene:'PRICKLE2',rows:heatPRICKLE2,probes:probesPRICKLE2,x0:154,x1:1623,y0:4009,y1:4396,bar:118,groups:[2,3,3],lab:1640,labEnd:1839,dy:16,line:889,lt:4005,lb:4399,gx:92,gTop:4072,gBot:4327},
 {gene:'SALL3',rows:heatSALL3,probes:probesSALL3,x0:2022,x1:3483,y0:2670,y1:2991,bar:1976,groups:[2,3,2],lab:3500,labEnd:3693,dy:15,line:2752,lt:2667,lb:2994,gx:1947,gTop:2754,gBot:2900},
 {gene:'TAMALIN',rows:heatTAMALIN,probes:probesTAMALIN,x0:2017,x1:3481,y0:3010,y1:3445,bar:1977,groups:[3,3,3],lab:3501,labEnd:3701,dy:12,line:2750,lt:3006,lb:3447,gx:1951,gTop:3099,gBot:3340},
 {gene:'TJP2',rows:heatTJP2,probes:probesTJP2,x0:2016,x1:3480,y0:3460,y1:3832,bar:1976,groups:[3,2,3],lab:3503,labEnd:3698,dy:5,line:2748,lt:3457,lb:3834,gx:1948,gTop:3589,gBot:3697},
 {gene:'TMEM106A',rows:heatTMEM106A,probes:probesTMEM106A,x0:2016,x1:3480,y0:3845,y1:4173,bar:1973,groups:[2,2,3],lab:3503,labEnd:3698,dy:7,line:2747,lt:3841,lb:4177,gx:1945,gTop:3867,gBot:4142}
];
blocks.forEach(b=>{
  const n=b.rows.length,gap=4;
  const ph=(b.y1-b.y0+gap)/n,pw=(b.x1-b.x0+3.5)/30;
  const g=mk(B,'g',{});
  
  
  b.rows.forEach((row,ri)=>{
    const y=b.y0+ri*ph;
    row.forEach((v,ci)=>{
      const c=mk(g,'rect',{x:(b.x0+ci*pw).toFixed(1),y:y.toFixed(1),width:(pw-3.5).toFixed(1),height:(ph-gap).toFixed(1),fill:heatColor(v)});
      
      
    });
    const t=mk(g,'text',{x:b.lab,y:(y+(ph-gap)/2+b.dy).toFixed(1),'font-size':40,class:'serif',fill:'#000',textLength:b.labEnd-b.lab,lengthAdjust:'spacingAndGlyphs'},b.probes[ri]);
    
    
  });
  let idx=0;
  b.groups.forEach((count,gi)=>{
    for(let k=0;k<count;k++){
      const a=mk(g,'rect',{x:b.bar,y:(b.y0+idx*ph).toFixed(1),width:20.5,height:(ph-gap).toFixed(1),fill:annotationColors[gi]});
      
      
      idx++;
    }
  });
  const sep=mk(g,'rect',{x:b.line-2,y:b.lt,width:4,height:b.lb-b.lt,fill:'#000'});
  
  
  const len=b.gBot-b.gTop;
  const gt=mk(g,'text',{x:b.gx,y:b.gBot,transform:'rotate(-90 '+b.gx+' '+b.gBot+')','font-size':58,'font-weight':'bold',class:'serif',fill:'#000',textLength:len,lengthAdjust:'spacingAndGlyphs'},b.gene);
  
  
});
const topDivL=mk(B,'rect',{x:2750,y:2552,width:4,height:111,fill:'#000'});


[[185,914,2648,33,48.5],[2042,2775,2655,30,49]].forEach(h=>{
  columnLabels.forEach((c,i)=>{
    const a=mk(B,'text',{x:h[0]+i*h[4],y:h[2],'text-anchor':'middle','font-size':h[3],class:'serif',fill:'#000'},c);
    
    
    const t=mk(B,'text',{x:h[1]+i*h[4],y:h[2],'text-anchor':'middle','font-size':h[3],class:'serif',fill:'#000'},c);
    
    
  });
});
// legend
legendLevels.forEach((v,i)=>{
  const r=mk(B,'rect',{x:(2027+i*40.7).toFixed(1),y:4247,width:37,height:37,fill:heatColor(v)});
  
  
});
legendTicks.forEach(v=>{
  const t=mk(B,'text',{x:(2012+v*4.48).toFixed(1),y:4337,'text-anchor':'middle','font-size':42,class:'serif',fill:'#000'},v);
  
  
});
</script>
</body>
</html>
